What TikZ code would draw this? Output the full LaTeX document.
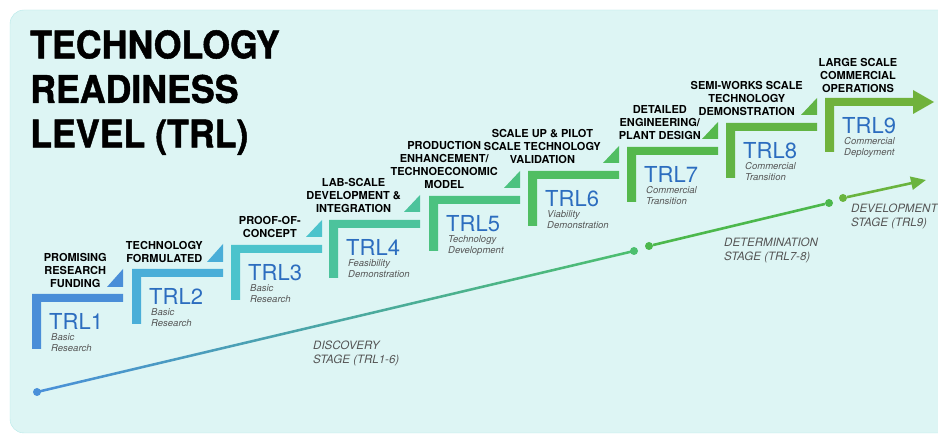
\documentclass[tikz,border=0pt]{standalone}
\usepackage{fontspec}
\setmainfont{TeX Gyre Heros}
\newfontfamily\titlefont[FakeStretch=0.94, FakeBold=1.2]{TeX Gyre Heros}
\usepackage{tikz}
\usetikzlibrary{positioning, calc, arrows.meta}
\definecolor{bg}{HTML}{DDF5F4}
\definecolor{bgline}{HTML}{B5E9E9}
\definecolor{c1}{HTML}{4A8ED8}
\definecolor{c2}{HTML}{4AAED8}
\definecolor{c3}{HTML}{4CC3CC}
\definecolor{c4}{HTML}{4CC39C}
\definecolor{c5}{HTML}{4CC280}
\definecolor{c6}{HTML}{50BE62}
\definecolor{c7}{HTML}{55B84C}
\definecolor{c8}{HTML}{62B444}
\definecolor{c9}{HTML}{70B23C}
\definecolor{trlblue}{HTML}{2C6DBF}
\definecolor{subgray}{HTML}{555555}
\definecolor{lineblue}{HTML}{4A90D9}
\definecolor{lineteal}{HTML}{43B9AE}
\definecolor{linegreen}{HTML}{4CBF6E}
\definecolor{linemid}{HTML}{4CB84C}
\definecolor{lineolive}{HTML}{6AB43E}
\tikzstyle{trl} = [inner sep=0pt, text=trlblue, font=\fontsize{22}{22}\selectfont]
\tikzstyle{subtxt} = [inner sep=0pt, align=left, text=subgray, font=\fontsize{9.5}{11}\selectfont\itshape]
\tikzstyle{task} = [inner sep=0pt, align=center, font=\fontsize{11}{13}\selectfont\bfseries]
\tikzstyle{stage} = [inner sep=0pt, align=left, text=subgray, font=\fontsize{11.5}{14}\selectfont\itshape]
\tikzstyle{stagedot} = [circle, inner sep=0pt, minimum size=8pt]
\begin{document}
\begin{tikzpicture}[x=1pt, y=-1pt]
        \useasboundingbox (0,0) rectangle (938,435);
        \fill[white] (0,0) rectangle (938,435);
        \draw[bgline, fill=bg, rounded corners=14pt] (10,10) rectangle (975,433);

        \node(title) [anchor=north west, inner sep=0pt, align=left, font=\titlefont\bfseries\fontsize{38}{44.5}\selectfont] at (30,30) {TECHNOLOGY\\READINESS\\LEVEL (TRL)};

        \coordinate (s1) at (32,294);
        \coordinate (s2) at (132,269);
        \coordinate (s3) at (231,245);
        \coordinate (s4) at (329,220);
        \coordinate (s5) at (429,196);
        \coordinate (s6) at (528,171);
        \coordinate (s7) at (627,147);
        \coordinate (s8) at (726,123);
        \coordinate (s9) at (825,98);

        \fill[c1] (s1) -- ++(91,0) -- ++(0,8) -- ++(-82,0) -- ++(0,47) -- ++(-9,0) -- cycle;
        \fill[c2] (s2) -- ++(91,0) -- ++(0,8) -- ++(-82,0) -- ++(0,47) -- ++(-9,0) -- cycle;
        \fill[c3] (s3) -- ++(91,0) -- ++(0,8) -- ++(-82,0) -- ++(0,47) -- ++(-9,0) -- cycle;
        \fill[c4] (s4) -- ++(91,0) -- ++(0,8) -- ++(-82,0) -- ++(0,50) -- ++(-9,0) -- cycle;
        \fill[c5] (s5) -- ++(91,0) -- ++(0,8) -- ++(-82,0) -- ++(0,47) -- ++(-9,0) -- cycle;
        \fill[c6] (s6) -- ++(91,0) -- ++(0,8) -- ++(-82,0) -- ++(0,47) -- ++(-9,0) -- cycle;
        \fill[c7] (s7) -- ++(91,0) -- ++(0,8) -- ++(-82,0) -- ++(0,47) -- ++(-9,0) -- cycle;
        \fill[c8] (s8) -- ++(91,0) -- ++(0,8) -- ++(-82,0) -- ++(0,47) -- ++(-9,0) -- cycle;
        \fill[c9] (s9) -- ++(88,0) -- ++(0,-8) -- ++(21,12) -- ++(-21,12) -- ++(0,-8) -- ++(-79,0) -- ++(0,46) -- ++(-9,0) -- cycle;

        \fill[c1] ($(s1)+(75,-7)$) coordinate (t1) -- ++(16,0) -- ++(0,-18) -- cycle;
        \fill[c2] ($(s2)+(75,-7)$) coordinate (t2) -- ++(16,0) -- ++(0,-18) -- cycle;
        \fill[c3] ($(s3)+(75,-8)$) coordinate (t3) -- ++(16,0) -- ++(0,-17) -- cycle;
        \fill[c4] ($(s4)+(75,-8)$) coordinate (t4) -- ++(16,0) -- ++(0,-17) -- cycle;
        \fill[c5] ($(s5)+(75,-8)$) coordinate (t5) -- ++(16,0) -- ++(0,-17) -- cycle;
        \fill[c6] ($(s6)+(75,-8)$) coordinate (t6) -- ++(16,0) -- ++(0,-17) -- cycle;
        \fill[c7] ($(s7)+(75,-8)$) coordinate (t7) -- ++(16,0) -- ++(0,-17) -- cycle;
        \fill[c8] ($(s8)+(75,-8)$) coordinate (t8) -- ++(16,0) -- ++(0,-17) -- cycle;

        \node(trl1) [trl, below right=19pt and 17pt of s1] {TRL1};
        \node(trl2) [trl, below right=19pt and 17pt of s2] {TRL2};
        \node(trl3) [trl, below right=19pt and 17pt of s3] {TRL3};
        \node(trl4) [trl, below right=19pt and 17pt of s4] {TRL4};
        \node(trl5) [trl, below right=19pt and 17pt of s5] {TRL5};
        \node(trl6) [trl, below right=19pt and 17pt of s6] {TRL6};
        \node(trl7) [trl, below right=19pt and 17pt of s7] {TRL7};
        \node(trl8) [trl, below right=19pt and 17pt of s8] {TRL8};
        \node(trl9) [trl, below right=19pt and 17pt of s9] {TRL9};

        \node(sub1) [subtxt, below=3.5pt of trl1.south west, anchor=north west, xshift=2pt] {Basic\\Research};
        \node(sub2) [subtxt, below=3.5pt of trl2.south west, anchor=north west, xshift=2pt] {Basic\\Research};
        \node(sub3) [subtxt, below=3.5pt of trl3.south west, anchor=north west, xshift=2pt] {Basic\\Research};
        \node(sub4) [subtxt, below=3.5pt of trl4.south west, anchor=north west, xshift=2pt] {Feasibility\\Demonstration};
        \node(sub5) [subtxt, below=3.5pt of trl5.south west, anchor=north west, xshift=2pt] {Technology\\Development};
        \node(sub6) [subtxt, below=3.5pt of trl6.south west, anchor=north west, xshift=2pt] {Viability\\Demonstration};
        \node(sub7) [subtxt, below=3.5pt of trl7.south west, anchor=north west, xshift=2pt] {Commercial\\Transition};
        \node(sub8) [subtxt, below=3.5pt of trl8.south west, anchor=north west, xshift=2pt] {Commercial\\Transition};
        \node(sub9) [subtxt, below=3.5pt of trl9.south west, anchor=north west, xshift=2pt] {Commercial\\Deployment};

        \node(task1) [task, left=0pt of t1, anchor=south east, yshift=-1pt] {PROMISING\\RESEARCH\\FUNDING};
        \node(task2) [task, left=4pt of t2, anchor=south east, yshift=-1pt] {TECHNOLOGY\\FORMULATED};
        \node(task3) [task, left=5pt of t3, anchor=south east, yshift=-1pt] {PROOF-OF-\\CONCEPT};
        \node(task4) [task, left=3pt of t4, anchor=south east, yshift=-1pt] {LAB-SCALE\\DEVELOPMENT \&\\INTEGRATION};
        \node(task5) [task, left=6pt of t5, anchor=south east, yshift=-1pt] {PRODUCTION\\ENHANCEMENT/\\TECHNOECONOMIC\\MODEL};
        \node(task6) [task, left=2pt of t6, anchor=south east, yshift=-1pt] {SCALE UP \& PILOT\\SCALE TECHNOLOGY\\VALIDATION};
        \node(task7) [task, left=1pt of t7, anchor=south east, yshift=-1pt] {DETAILED\\ENGINEERING/\\PLANT DESIGN};
        \node(task8) [task, left=-2pt of t8, anchor=south east, yshift=-1pt] {SEMI-WORKS SCALE\\TECHNOLOGY\\DEMONSTRATION};
        \node(task9) [task, above=5pt of s9, xshift=33pt] {LARGE SCALE\\COMMERCIAL\\OPERATIONS};

        \node(d1) [stagedot, fill=lineblue] at (37,392) {};
        \node(d2) [stagedot, fill=linegreen] at (634,251) {};
        \node(d3) [stagedot, fill=linemid] at (649,246) {};
        \node(d4) [stagedot, fill=linemid] at (829,203) {};
        \node(d5) [stagedot, fill=lineolive] at (843,198) {};
        \coordinate (d6) at (926,180);

        \shade[left color=lineblue, middle color=lineteal, right color=linegreen] ($(d1.center)+(0,-1.3)$) -- ($(d2.center)+(0,-1.3)$) -- ($(d2.center)+(0,1.3)$) -- ($(d1.center)+(0,1.3)$) -- cycle;
        \draw[linemid, line width=2.6pt] (d3) -- (d4);
        \draw[lineolive, line width=2.6pt, -{Triangle[length=15pt, width=13pt]}] (d5) -- (d6);

        \node(stage1) [stage, anchor=north west] at (313,341) {DISCOVERY\\STAGE (TRL1-6)};
        \node(stage2) [stage, anchor=north west] at (724,238) {DETERMINATION\\STAGE (TRL7-8)};
        \node(stage3) [stage, anchor=north west] at (851,204) {DEVELOPMENT\\STAGE (TRL9)};
    \end{tikzpicture}
\end{document}
